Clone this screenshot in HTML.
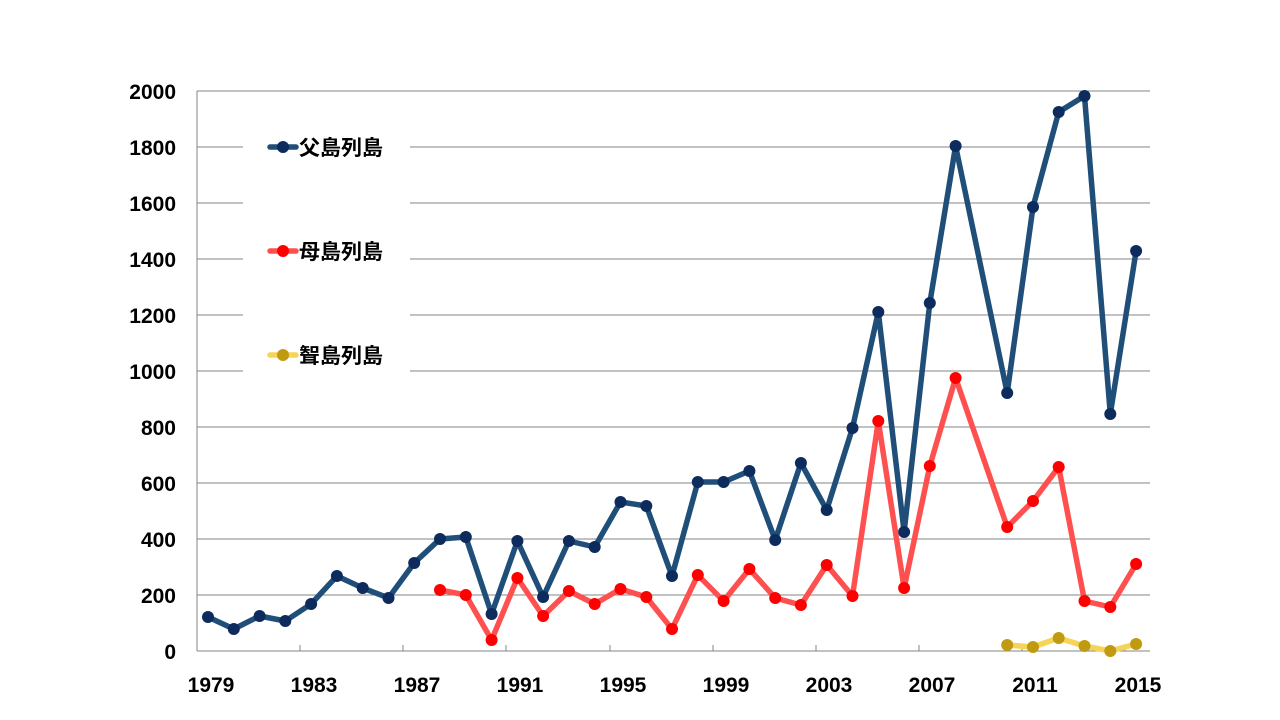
<!DOCTYPE html>
<html><head><meta charset="utf-8"><style>
body{margin:0;background:#fff;}
svg{display:block;}
text{font-family:"Liberation Sans","Noto Sans CJK JP",sans-serif;font-weight:bold;fill:#000;}
</style></head><body>
<svg width="1280" height="720" xmlns="http://www.w3.org/2000/svg">
<g stroke="#868686" stroke-width="1">
<line x1="197" y1="91" x2="1150" y2="91"/>
<line x1="197" y1="147" x2="1150" y2="147"/>
<line x1="197" y1="203" x2="1150" y2="203"/>
<line x1="197" y1="259" x2="1150" y2="259"/>
<line x1="197" y1="315" x2="1150" y2="315"/>
<line x1="197" y1="371" x2="1150" y2="371"/>
<line x1="197" y1="427" x2="1150" y2="427"/>
<line x1="197" y1="483" x2="1150" y2="483"/>
<line x1="197" y1="539" x2="1150" y2="539"/>
<line x1="197" y1="595" x2="1150" y2="595"/>
<line x1="197" y1="91" x2="197" y2="651"/>
<line x1="197" y1="651" x2="1150" y2="651"/>
<line x1="300" y1="645" x2="300" y2="651"/>
<line x1="403" y1="645" x2="403" y2="651"/>
<line x1="506" y1="645" x2="506" y2="651"/>
<line x1="610" y1="645" x2="610" y2="651"/>
<line x1="713" y1="645" x2="713" y2="651"/>
<line x1="816" y1="645" x2="816" y2="651"/>
<line x1="919" y1="645" x2="919" y2="651"/>
<line x1="1022" y1="645" x2="1022" y2="651"/>
<line x1="1125" y1="645" x2="1125" y2="651"/>
</g>
<rect x="243" y="120" width="167" height="245" fill="#fff"/>
<rect x="243" y="367" width="167" height="10" fill="#fff"/>
<g font-size="21" text-anchor="end">
<text x="176" y="99">2000</text><text x="176" y="155">1800</text><text x="176" y="211">1600</text>
<text x="176" y="267">1400</text><text x="176" y="323">1200</text><text x="176" y="379">1000</text>
<text x="176" y="435">800</text><text x="176" y="491">600</text><text x="176" y="547">400</text>
<text x="176" y="603">200</text><text x="176" y="659">0</text>
</g>
<g font-size="21" text-anchor="middle">
<text x="211" y="692">1979</text><text x="314" y="692">1983</text><text x="417" y="692">1987</text>
<text x="520" y="692">1991</text><text x="623" y="692">1995</text><text x="726" y="692">1999</text>
<text x="829" y="692">2003</text><text x="932" y="692">2007</text><text x="1035" y="692">2011</text>
<text x="1138" y="692">2015</text>
</g>
<polyline fill="none" stroke="#1f4e79" stroke-width="5.5" stroke-linejoin="round" points="208,617 233.8,629 259.6,616 285.3,621 311.1,604 336.9,576 362.7,588 388.5,598 414.2,563 440,539 465.8,537 491.6,614 517.4,541 543.1,597 568.9,541 594.7,547 620.5,502 646.3,506 672,576 697.8,482 723.6,482 749.4,471 775.2,540 800.9,463 826.7,510 852.5,428 878.3,312 904.1,532 929.8,303 955.6,146 1007.2,393 1033,207 1058.7,112 1084.5,96 1110.3,414 1136.1,251"/>
<g fill="#0d2b5c">
<circle cx="208" cy="617" r="6"/><circle cx="233.8" cy="629" r="6"/><circle cx="259.6" cy="616" r="6"/><circle cx="285.3" cy="621" r="6"/><circle cx="311.1" cy="604" r="6"/><circle cx="336.9" cy="576" r="6"/><circle cx="362.7" cy="588" r="6"/><circle cx="388.5" cy="598" r="6"/><circle cx="414.2" cy="563" r="6"/><circle cx="440" cy="539" r="6"/><circle cx="465.8" cy="537" r="6"/><circle cx="491.6" cy="614" r="6"/><circle cx="517.4" cy="541" r="6"/><circle cx="543.1" cy="597" r="6"/><circle cx="568.9" cy="541" r="6"/><circle cx="594.7" cy="547" r="6"/><circle cx="620.5" cy="502" r="6"/><circle cx="646.3" cy="506" r="6"/><circle cx="672" cy="576" r="6"/><circle cx="697.8" cy="482" r="6"/><circle cx="723.6" cy="482" r="6"/><circle cx="749.4" cy="471" r="6"/><circle cx="775.2" cy="540" r="6"/><circle cx="800.9" cy="463" r="6"/><circle cx="826.7" cy="510" r="6"/><circle cx="852.5" cy="428" r="6"/><circle cx="878.3" cy="312" r="6"/><circle cx="904.1" cy="532" r="6"/><circle cx="929.8" cy="303" r="6"/><circle cx="955.6" cy="146" r="6"/><circle cx="1007.2" cy="393" r="6"/><circle cx="1033" cy="207" r="6"/><circle cx="1058.7" cy="112" r="6"/><circle cx="1084.5" cy="96" r="6"/><circle cx="1110.3" cy="414" r="6"/><circle cx="1136.1" cy="251" r="6"/>
</g>
<polyline fill="none" stroke="#ff5050" stroke-width="5.5" stroke-linejoin="round" points="440,590 465.8,595 491.6,640 517.4,578 543.1,616 568.9,591 594.7,604 620.5,589 646.3,597 672,629 697.8,575 723.6,601 749.4,569 775.2,598 800.9,605 826.7,565 852.5,596 878.3,421 904.1,588 929.8,466 955.6,378 1007.2,527 1033,501 1058.7,467 1084.5,601 1110.3,607 1136.1,564"/>
<g fill="#ff0000">
<circle cx="440" cy="590" r="6"/><circle cx="465.8" cy="595" r="6"/><circle cx="491.6" cy="640" r="6"/><circle cx="517.4" cy="578" r="6"/><circle cx="543.1" cy="616" r="6"/><circle cx="568.9" cy="591" r="6"/><circle cx="594.7" cy="604" r="6"/><circle cx="620.5" cy="589" r="6"/><circle cx="646.3" cy="597" r="6"/><circle cx="672" cy="629" r="6"/><circle cx="697.8" cy="575" r="6"/><circle cx="723.6" cy="601" r="6"/><circle cx="749.4" cy="569" r="6"/><circle cx="775.2" cy="598" r="6"/><circle cx="800.9" cy="605" r="6"/><circle cx="826.7" cy="565" r="6"/><circle cx="852.5" cy="596" r="6"/><circle cx="878.3" cy="421" r="6"/><circle cx="904.1" cy="588" r="6"/><circle cx="929.8" cy="466" r="6"/><circle cx="955.6" cy="378" r="6"/><circle cx="1007.2" cy="527" r="6"/><circle cx="1033" cy="501" r="6"/><circle cx="1058.7" cy="467" r="6"/><circle cx="1084.5" cy="601" r="6"/><circle cx="1110.3" cy="607" r="6"/><circle cx="1136.1" cy="564" r="6"/>
</g>
<polyline fill="none" stroke="#f5d45a" stroke-width="5.5" stroke-linejoin="round" points="1007.2,645 1033,647 1058.7,638 1084.5,646 1110.3,651 1136.1,644"/>
<g fill="#c09a10">
<circle cx="1007.2" cy="645" r="6"/><circle cx="1033" cy="647" r="6"/><circle cx="1058.7" cy="638" r="6"/><circle cx="1084.5" cy="646" r="6"/><circle cx="1110.3" cy="651" r="6"/><circle cx="1136.1" cy="644" r="6"/>
</g>
<line x1="270" y1="147" x2="296" y2="147" stroke="#1f4e79" stroke-width="5.5" stroke-linecap="round"/>
<circle cx="283" cy="147" r="6" fill="#0d2b5c"/>
<line x1="270" y1="251" x2="296" y2="251" stroke="#ff5050" stroke-width="5.5" stroke-linecap="round"/>
<circle cx="283" cy="251" r="6" fill="#ff0000"/>
<line x1="270" y1="355" x2="296" y2="355" stroke="#f5d45a" stroke-width="5.5" stroke-linecap="round"/>
<circle cx="283" cy="355" r="6" fill="#c09a10"/>
<g font-size="21">
<text x="299" y="155">父島列島</text>
<text x="299" y="259">母島列島</text>
<text x="299" y="363">聟島列島</text>
</g>
</svg>
</body></html>
